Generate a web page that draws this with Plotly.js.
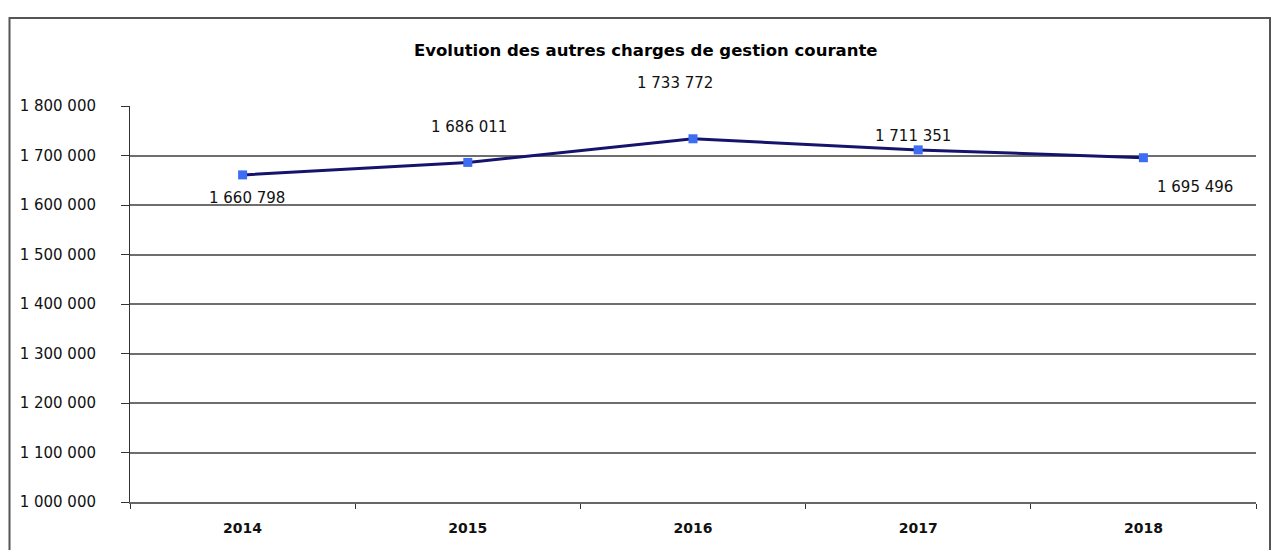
<!DOCTYPE html>
<html>
<head>
<meta charset="utf-8">
<script src="https://cdn.plot.ly/plotly-3.0.1.min.js"></script>
<style>
html,body{margin:0;padding:0;background:#fff;}
#chart{width:1271px;height:550px;}
</style>
</head>
<body>
<div id="chart"></div>
<script>
const years = ["2014", "2015", "2016", "2017", "2018"];
const values = [1660798, 1686011, 1733772, 1711351, 1695496];
const tickValues = [1000000, 1100000, 1200000, 1300000, 1400000, 1500000, 1600000, 1700000, 1800000];
const tickLabels = ["1 000 000", "1 100 000", "1 200 000", "1 300 000", "1 400 000", "1 500 000", "1 600 000", "1 700 000", "1 800 000"];
const chartTitle = "Evolution des autres charges de gestion courante";

// label offsets (pixels) relative to each point
const labelDX = [4, 1, -18, -5, 52];
const labelDY = [-23, 35, 56, 14, -29];

function fmt(v){ return String(v).replace(/\B(?=(\d{3})+(?!\d))/g, " "); }

const trace = {
  x: years, y: values, type: "scatter", mode: "lines+markers",
  line: {color: "#16136c", width: 3},
  marker: {symbol: "square", size: 9, color: "#3d6df2"},
  hoverinfo: "skip"
};

const annotations = years.map((yr, i) => ({
  x: i, y: values[i], xref: "x", yref: "y",
  text: fmt(values[i]), showarrow: false,
  xshift: labelDX[i], yshift: labelDY[i],
  font: {family: "DejaVu Sans, Arial, sans-serif", size: 15, color: "#111"}
}));

const layout = {
  width: 1271, height: 550,
  margin: {l: 130, r: 15, t: 106, b: 48},
  paper_bgcolor: "#fff", plot_bgcolor: "#fff",
  showlegend: false,
  title: {
    text: "<b>" + chartTitle + "</b>",
    x: 0.458, xref: "paper", xanchor: "center",
    y: 1 - 50/550, yref: "container", yanchor: "middle",
    font: {family: "DejaVu Sans, Arial, sans-serif", size: 16.5, color: "#000"}
  },
  xaxis: {
    type: "category",
    categoryorder: "array", categoryarray: years,
    range: [-0.5, years.length - 0.5], autorange: false,
    tickson: "boundaries",
    ticks: "outside", ticklen: 5, tickcolor: "#333", tickwidth: 1,
    showline: true, linecolor: "#666", linewidth: 2,
    showgrid: false, zeroline: false,
    tickangle: 0,
    tickfont: {family: "DejaVu Sans, Arial, sans-serif", size: 14, color: "#111", weight: "bold"},
    ticklabelstandoff: 12
  },
  yaxis: {
    range: [1000000, 1800000], autorange: false,
    tickmode: "array", tickvals: tickValues, ticktext: tickLabels,
    ticks: "outside", ticklen: 8, tickcolor: "#333", tickwidth: 1,
    showline: true, linecolor: "#333", linewidth: 1,
    showgrid: true, gridcolor: "#6e6e6e", gridwidth: 2,
    zeroline: false,
    tickfont: {family: "DejaVu Sans, Arial, sans-serif", size: 15, color: "#111"},
    ticklabelstandoff: 22
  },
  annotations: annotations,
  shapes: [{
    type: "rect", xref: "paper", yref: "paper",
    x0: (9.5-130)/1126, x1: (1270-130)/1126,
    y0: (502-560)/396, y1: (502-18)/396,
    line: {color: "#555", width: 2}, fillcolor: "rgba(0,0,0,0)", layer: "below"
  }]
};

Plotly.newPlot("chart", [trace], layout, {displayModeBar: false, staticPlot: true});
</script>
</body>
</html>
